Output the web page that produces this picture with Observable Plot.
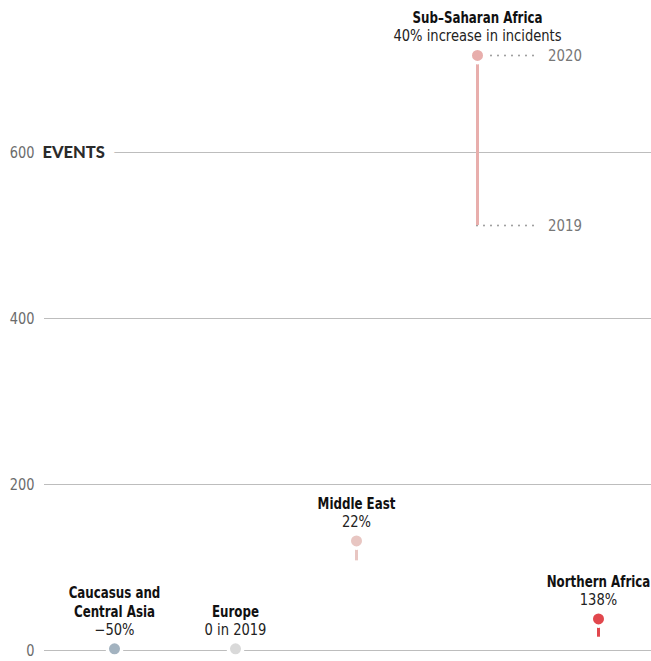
<!DOCTYPE html>
<html>
<head>
<meta charset="utf-8">
<script src="https://cdn.jsdelivr.net/npm/d3@7"></script>
<script src="https://cdn.jsdelivr.net/npm/@observablehq/plot@0.6"></script>
<style>
  html, body { margin: 0; padding: 0; background: #fff; }
  #chart { width: 651px; height: 661px; }
</style>
</head>
<body>
<div id="chart"></div>
<script>
const regions = ["Caucasus and Central Asia", "Europe", "Middle East", "Sub-Saharan Africa", "Northern Africa"];
const regionLabels = ["Caucasus and\nCentral Asia", "Europe", "Middle East", "Sub–Saharan Africa", "Northern Africa"];
const events2019 = [4, 0, 108, 512, 16];
const events2020 = [2, 2, 132, 717, 38];
const changeLabels = ["−50%", "0 in 2019", "22%", "40% increase in incidents", "138%"];
const regionColors = ["#a3b3c0", "#d9d9d9", "#e8c6c2", "#e8aeac", "#e1474d"];
const yTicks = [0, 200, 400, 600];
const yearKeys = ["2020", "2019"];

const data = regions.map((r, i) => ({
  region: r, i, label: regionLabels[i], v19: events2019[i], v20: events2020[i],
  change: changeLabels[i], color: regionColors[i]
}));
const ssa = data[3];
const yearRows = [{year: yearKeys[0], v: ssa.v20, i: ssa.i}, {year: yearKeys[1], v: ssa.v19, i: ssa.i}];

const font = "'Liberation Sans Narrow', 'DejaVu Sans Condensed', 'Arial Narrow', sans-serif";

const chart = Plot.plot({
  width: 651,
  height: 661,
  marginLeft: 44,
  marginRight: 0,
  marginTop: 0,
  marginBottom: 0,
  style: {fontFamily: font, background: "#fff", overflow: "visible"},
  x: {type: "linear", domain: [0, 4], range: [114, 598], axis: null},
  y: {domain: [0, 600], range: [650, 152], axis: null},
  marks: [
    Plot.ruleY(yTicks, {stroke: "#bdbdbd", strokeWidth: 1}),
    Plot.text([yTicks[3]], {y: d => d, frameAnchor: "left", dx: -2, textAnchor: "start", text: () => "EVENTS",
      fontFamily: "Lato, sans-serif", fontWeight: 900, fontSize: 16.5, fill: "#2b2b2b",
      stroke: "white", strokeWidth: 20, strokeLinejoin: "round"}),
    Plot.text(yTicks, {y: d => d, frameAnchor: "left", dx: -10, textAnchor: "end", text: d => String(d),
      fontSize: 16, fill: "#6b6b6b", fontStyle: "normal"}),
    Plot.ruleY(yearRows, {y: "v", x1: "i", x2: d => d.i + 0.5, stroke: "#999", strokeWidth: 2,
      strokeDasharray: "0,7", strokeLinecap: "round"}),
    Plot.text(yearRows, {y: "v", x: d => d.i + 0.5, dx: 10, text: "year", textAnchor: "start",
      fontSize: 16.5, fill: "#777", fontStyle: "normal"}),
    Plot.ruleX(data, {x: "i", y1: "v19", y2: "v20", stroke: "color", strokeWidth: 3}),
    Plot.dot(data, {x: "i", y: "v20", r: 7.25, fill: "color", stroke: "white", strokeWidth: 3.5}),
    Plot.text(data, {x: "i", y: "v20", text: "change", lineAnchor: "bottom", dy: -14,
      fontSize: 15.5, fill: "#222", fontStyle: "oblique 0deg"}),
    Plot.text(data, {x: "i", y: "v20", text: "label", lineAnchor: "bottom", dy: -32, lineHeight: 1.2,
      fontSize: 15.5, fontWeight: "bold", fill: "#111"})
  ]
});

// narrow the type to mimic the condensed face of the reference
function squeeze(sel, s) {
  sel.each(function() {
    const t = d3.select(this);
    const tr = t.attr("transform");
    if (tr) {
      t.attr("transform", tr + ` scale(${s},1)`);
    } else {
      const x = +t.attr("x") || 0, y = +t.attr("y") || 0;
      t.attr("x", null).attr("y", null).attr("transform", `translate(${x},${y}) scale(${s},1)`);
    }
  });
}
const svg = d3.select(chart);
svg.selectAll("g[aria-label='text']").each(function() {
  const g = d3.select(this);
  const fw = g.attr("font-weight");
  const fs = g.attr("font-style");
  if (fw === "bold") squeeze(g.selectAll("text"), 0.85);
  else if (fs === "normal") squeeze(g.selectAll("text"), 0.9);
  else if (fs === "oblique 0deg") squeeze(g.selectAll("text"), 0.94);
});
svg.selectAll("[font-style]").attr("font-style", null);
document.getElementById("chart").appendChild(chart);
</script>
</body>
</html>
